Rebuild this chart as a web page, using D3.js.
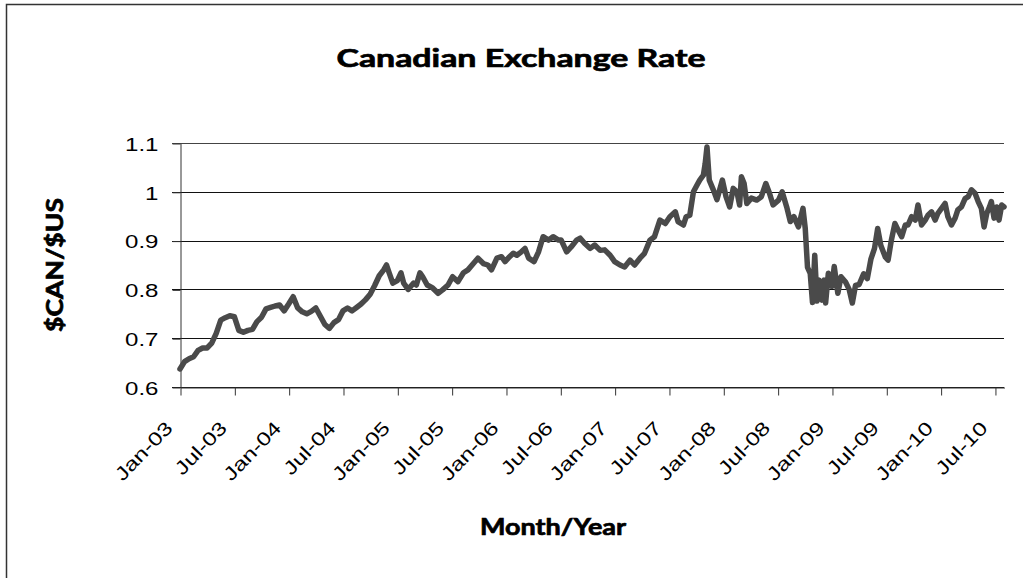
<!DOCTYPE html>
<html><head><meta charset="utf-8">
<script src="https://cdn.jsdelivr.net/npm/d3@7/dist/d3.min.js"></script>
<style>body{margin:0;background:#fff;} svg{display:block;}</style>
</head><body>
<svg id="chart" width="1023" height="578"></svg>
<script>
// ---- data ----
const titleText = "Canadian Exchange Rate";
const yTitleText = "$CAN/$US";
const xTitleText = "Month/Year";
const yTicks = [0.6, 0.7, 0.8, 0.9, 1.0, 1.1];
const yTickLabels = ["0.6", "0.7", "0.8", "0.9", "1", "1.1"];
// months since Jan 2003
const xTickMonths = [0, 6, 12, 18, 24, 30, 36, 42, 48, 54, 60, 66, 72, 78, 84, 90];
const xTickLabels = ["Jan-03","Jul-03","Jan-04","Jul-04","Jan-05","Jul-05","Jan-06","Jul-06",
                     "Jan-07","Jul-07","Jan-08","Jul-08","Jan-09","Jul-09","Jan-10","Jul-10"];
const monthIdx = [
  0,0.5,1,1.5,2,2.5,3,3.5,4,4.5,5,5.5,6,6.5,7,7.5,8,8.5,9,9.5,10,10.5,11,11.5,
  12,12.5,13,13.5,14,14.5,15,15.5,16,16.5,17,17.5,18,18.5,19,19.5,20,20.5,21,21.5,22,22.5,22.8,23.1,23.5,
  24,24.4,24.7,25.2,25.8,26.1,26.5,26.8,27.3,27.9,28.5,29.0,29.6,30.1,30.7,31.3,31.8,32.4,32.9,33.5,34.0,34.4,35.0,35.5,
  35.9,36.4,36.8,37.2,37.7,38.1,38.5,39.1,39.6,40.1,40.7,41.2,41.8,42.1,42.7,43.2,43.8,44.2,44.7,45.3,45.8,46.4,46.9,47.5,
  48.0,48.6,49.1,49.7,50.2,50.8,51.3,51.9,52.4,53.0,53.6,54.1,54.7,55.0,55.6,55.9,56.3,56.7,57.1,57.4,57.8,58.0,58.2,58.45,58.9,59.3,59.9,
  60.3,60.7,61.1,61.5,61.8,62.0,62.3,62.6,63.1,63.7,64.2,64.7,65.1,65.5,66.1,66.5,67.0,67.4,67.8,68.3,68.8,69.05,69.3,69.6,69.85,
  70.1,70.35,70.6,70.9,71.15,71.3,71.6,72.0,72.25,72.65,73.0,73.5,73.9,74.25,74.6,75.0,75.5,75.9,76.3,76.7,77.05,77.4,77.9,
  78.2,78.55,78.95,79.3,79.7,80.1,80.4,80.8,81.2,81.5,81.9,82.3,82.6,83.0,83.4,83.7,84.1,84.5,84.8,85.2,85.6,85.9,86.3,86.7,
  87.05,87.4,87.8,88.15,88.5,88.8,89.1,89.4,89.6,89.9,90.2,90.45,90.75,91.0
];
const rate = [
  0.637,0.652,0.658,0.662,0.675,0.680,0.680,0.690,0.710,0.737,0.742,0.746,0.744,0.716,0.712,0.716,0.718,0.734,0.743,0.760,0.763,0.766,0.768,0.756,
  0.770,0.785,0.762,0.754,0.750,0.755,0.762,0.745,0.728,0.720,0.732,0.738,0.756,0.762,0.756,0.763,0.770,0.779,0.790,0.808,0.828,0.840,0.850,0.834,0.813,
  0.818,0.834,0.813,0.800,0.813,0.809,0.834,0.826,0.809,0.803,0.792,0.799,0.809,0.826,0.816,0.834,0.840,0.853,0.864,0.853,0.850,0.840,0.864,0.867,
  0.857,0.867,0.874,0.870,0.877,0.884,0.864,0.857,0.877,0.908,0.901,0.908,0.901,0.901,0.877,0.887,0.901,0.905,0.894,0.884,0.891,0.880,0.881,0.870,
  0.857,0.850,0.846,0.860,0.850,0.864,0.874,0.901,0.908,0.942,0.935,0.949,0.959,0.939,0.932,0.949,0.952,1.000,1.014,1.024,1.034,1.058,1.092,1.024,1.004,0.984,1.024,
  0.990,0.969,1.007,1.000,0.973,1.031,1.017,0.976,0.987,0.983,0.990,1.017,0.997,0.973,0.983,1.000,0.969,0.939,0.949,0.928,0.966,0.925,0.845,0.833,0.773,
  0.870,0.776,0.819,0.778,0.819,0.772,0.833,0.806,0.847,0.792,0.826,0.815,0.800,0.772,0.808,0.810,0.832,0.822,0.862,0.884,0.925,0.890,0.866,
  0.860,0.900,0.935,0.922,0.908,0.932,0.932,0.949,0.942,0.973,0.932,0.942,0.952,0.959,0.942,0.956,0.966,0.976,0.949,0.932,0.946,0.963,0.969,0.986,
  0.990,1.004,0.997,0.980,0.966,0.928,0.956,0.969,0.980,0.946,0.969,0.942,0.973,0.969
];

// ---- chart ----
const svg = d3.select("#chart");
const L = 180, R = 1004, T = 143, B = 387;
const x = d3.scaleLinear().domain([0, 91]).range([L, R]);
const y = d3.scaleLinear().domain([0.6, 1.1]).range([B, T]);
const labelFont = "'Liberation Sans', Arial, sans-serif";
const titleFont = "Lato, 'Open Sans', sans-serif";
const stretch = 1.28;

// outer border
svg.append("rect").attr("x", 6.5).attr("y", 4.5).attr("width", 1100).attr("height", 700)
  .attr("fill", "#fff").attr("stroke", "#333").attr("stroke-width", 1.5);

// gridlines
svg.append("g").selectAll("line").data(yTicks).join("line")
  .attr("x1", L - 8).attr("x2", R)
  .attr("y1", d => Math.round(y(d)) + 0.5).attr("y2", d => Math.round(y(d)) + 0.5)
  .attr("stroke", d => d === 1.1 ? "#444" : "#111").attr("stroke-width", 1.2);

// y axis
const yAxis = svg.append("g").attr("transform", `translate(${L + 0.5},0.5)`)
  .call(d3.axisLeft(y).tickValues(yTicks).tickFormat((d, i) => yTickLabels[i]).tickSize(8).tickSizeOuter(0));
yAxis.select(".domain").attr("stroke", "#333");
yAxis.selectAll(".tick line").attr("stroke", "#333");
yAxis.selectAll(".tick text")
  .attr("x", null).attr("dy", "0.36em")
  .attr("transform", `translate(-22,0) scale(${stretch},1)`)
  .attr("text-anchor", "end")
  .style("font-family", labelFont).style("font-size", "18.8px").attr("fill", "#000");

// x axis
const xAxis = svg.append("g").attr("transform", `translate(0.5,${B + 0.5})`)
  .call(d3.axisBottom(x).tickValues(xTickMonths).tickFormat((d, i) => xTickLabels[i]).tickSize(8).tickSizeOuter(0));
xAxis.select(".domain").attr("stroke", "#333");
xAxis.selectAll(".tick line").attr("stroke", "#333");
xAxis.selectAll(".tick text")
  .attr("y", 0).attr("dy", "0.35em")
  .attr("transform", `translate(-12,37) rotate(-46) scale(${stretch},1)`)
  .attr("text-anchor", "end")
  .style("font-family", labelFont).style("font-size", "18.8px").attr("fill", "#000");

// data line
const pts = monthIdx.map((m, i) => [m, rate[i]]);
svg.append("path").datum(pts)
  .attr("d", d3.line().x(d => x(d[0])).y(d => y(d[1])))
  .attr("fill", "none").attr("stroke", "#4a4a4a").attr("stroke-width", 5.5)
  .attr("stroke-linejoin", "round").attr("stroke-linecap", "round");

// titles
const tStyle = sel => sel.style("font-family", titleFont).style("font-weight", 700)
  .attr("fill", "#000").attr("stroke", "#000").attr("stroke-width", 0.7);
svg.append("text").attr("x", 521).attr("y", 67).attr("text-anchor", "middle")
  .attr("textLength", 369).attr("lengthAdjust", "spacingAndGlyphs")
  .style("font-size", "25px").call(tStyle).text(titleText);
svg.append("text").attr("transform", "translate(63,265) rotate(-90)").attr("text-anchor", "middle")
  .attr("textLength", 134).attr("lengthAdjust", "spacingAndGlyphs")
  .style("font-size", "22px").call(tStyle).text(yTitleText);
svg.append("text").attr("x", 553).attr("y", 535).attr("text-anchor", "middle")
  .attr("textLength", 146).attr("lengthAdjust", "spacingAndGlyphs")
  .style("font-size", "23px").call(tStyle).text(xTitleText);
</script>
</body></html>
